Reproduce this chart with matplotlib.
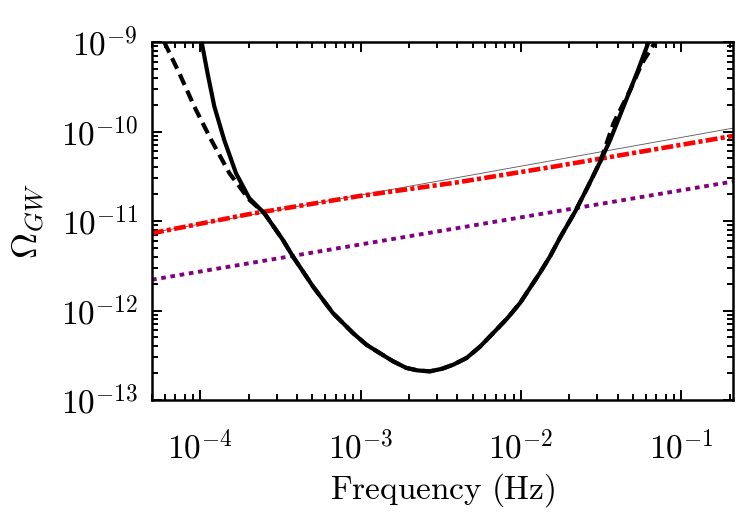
import numpy as np
import matplotlib
matplotlib.use("Agg")
import matplotlib.pyplot as plt
from matplotlib.ticker import LogLocator, FixedLocator, NullFormatter

plt.rcParams['mathtext.fontset'] = 'cm'
plt.rcParams['font.family'] = 'DejaVu Serif'

# --- data ---
# solid black sensitivity curve
f_solid = [1.02e-4, 1.11e-4, 1.224e-4, 1.41e-4, 1.67e-4, 2.02e-4, 2.51e-4, 3.27e-4,
           3.78e-4, 5.04e-4, 6.71e-4, 8.95e-4, 1.086e-3, 1.31e-3, 1.585e-3, 1.93e-3,
           2.27e-3, 2.70e-3, 3.21e-3, 3.78e-3, 4.58e-3, 5.55e-3, 6.72e-3, 8.17e-3,
           9.86e-3, 1.31e-2, 1.52e-2, 1.75e-2, 2.18e-2, 2.61e-2, 3.12e-2, 3.60e-2,
           4.36e-2, 5.28e-2, 6.25e-2]
omega_solid = [1.0e-9, 4.48e-10, 1.90e-10, 8.05e-11, 3.42e-11, 1.80e-11, 1.22e-11, 6.17e-12,
               4.02e-12, 1.86e-12, 9.38e-13, 5.61e-13, 4.15e-13, 3.36e-13, 2.72e-13, 2.28e-13,
               2.14e-13, 2.09e-13, 2.23e-13, 2.48e-13, 2.95e-13, 3.94e-13, 5.61e-13, 8.09e-13,
               1.21e-12, 2.62e-12, 4.04e-12, 6.49e-12, 1.28e-11, 2.41e-11, 4.61e-11, 8.05e-11,
               1.90e-10, 4.48e-10, 1.0e-9]

# dashed black curve
f_dashed = [5.96e-5, 7.40e-5, 9.18e-5, 1.17e-4, 1.52e-4, 2.02e-4, 2.51e-4, 3.27e-4,
            3.78e-4, 5.04e-4, 6.71e-4, 8.95e-4, 1.086e-3, 1.31e-3, 1.585e-3, 1.93e-3,
            2.27e-3, 2.70e-3, 3.21e-3, 3.78e-3, 4.58e-3, 5.55e-3, 6.72e-3, 8.17e-3,
            9.86e-3, 1.31e-2, 1.52e-2, 1.75e-2, 2.18e-2, 2.61e-2, 3.12e-2, 3.78e-2,
            4.80e-2, 5.68e-2, 6.88e-2]
omega_dashed = [1.0e-9, 4.48e-10, 1.90e-10, 8.05e-11, 3.42e-11, 1.73e-11, 1.22e-11, 6.17e-12,
                4.02e-12, 1.86e-12, 9.38e-13, 5.61e-13, 4.15e-13, 3.36e-13, 2.72e-13, 2.28e-13,
                2.14e-13, 2.09e-13, 2.23e-13, 2.48e-13, 2.95e-13, 3.94e-13, 5.61e-13, 8.09e-13,
                1.21e-12, 2.62e-12, 4.04e-12, 6.49e-12, 1.28e-11, 2.41e-11, 4.61e-11, 1.24e-10,
                2.91e-10, 5.78e-10, 1.0e-9]

# thin gray power law
f_gray = [5e-5, 1e-3, 1e-2, 0.21]
omega_gray = [7.4e-12, 1.95e-11, 4.1e-11, 1.09e-10]

# red dash-dot
f_red = [5e-5, 2e-4, 1e-3, 4e-3, 1.5e-2, 6e-2, 0.21]
omega_red = [7.3e-12, 1.19e-11, 1.91e-11, 2.70e-11, 3.97e-11, 6.07e-11, 8.93e-11]

# purple dotted
f_purple = [5e-5, 0.21]
omega_purple = [2.21e-12, 2.76e-11]

xticks = [1e-4, 1e-3, 1e-2, 1e-1]
xticklabels = [r'$10^{-4}$', r'$10^{-3}$', r'$10^{-2}$', r'$10^{-1}$']
yticks = [1e-13, 1e-12, 1e-11, 1e-10, 1e-9]
yticklabels = [r'$10^{-13}$', r'$10^{-12}$', r'$10^{-11}$', r'$10^{-10}$', r'$10^{-9}$']

fig = plt.figure(figsize=(7.5, 5.17), dpi=100)
ax = fig.add_axes([152/750, 1-400/517, (733-152)/750, (400-42)/517])

ax.plot(f_gray, omega_gray, color='#555555', lw=0.6)
ax.plot(f_purple, omega_purple, color='#800080', lw=2.8, linestyle=(0, (1.2, 1.2)))
ax.plot(f_red, omega_red, color='#ff0000', lw=3.3, linestyle=(0, (2.6, 0.7, 0.9, 0.7)))
ax.plot(f_solid, omega_solid, color='black', lw=3.0, solid_joinstyle='round')
ax.plot(f_dashed, omega_dashed, color='black', lw=3.0, linestyle=(0, (2.8, 1.5)))

ax.set_xscale('log')
ax.set_yscale('log')
ax.set_xlim(5e-5, 0.21)
ax.set_ylim(1e-13, 1e-9)

ax.xaxis.set_major_locator(FixedLocator(xticks))
ax.set_xticklabels(xticklabels)
ax.yaxis.set_major_locator(FixedLocator(yticks))
ax.set_yticklabels(yticklabels)
ax.xaxis.set_minor_locator(LogLocator(base=10, subs=np.arange(2, 10), numticks=20))
ax.yaxis.set_minor_locator(LogLocator(base=10, subs=np.arange(2, 10), numticks=20))
ax.xaxis.set_minor_formatter(NullFormatter())
ax.yaxis.set_minor_formatter(NullFormatter())

ax.tick_params(which='both', direction='in', top=True, right=True, width=1.4)
ax.tick_params(which='major', length=7, labelsize=24, pad=10)
ax.tick_params(which='minor', length=4)
ax.tick_params(axis='x', which='major', pad=22)
for s in ax.spines.values():
    s.set_linewidth(1.8)

ax.set_xlabel(r'$\mathrm{Frequency\ (Hz)}$', fontsize=24, labelpad=4)
ax.set_ylabel(r'$\Omega_{GW}$', fontsize=26, labelpad=10)

fig.savefig('out.png', dpi=100)
